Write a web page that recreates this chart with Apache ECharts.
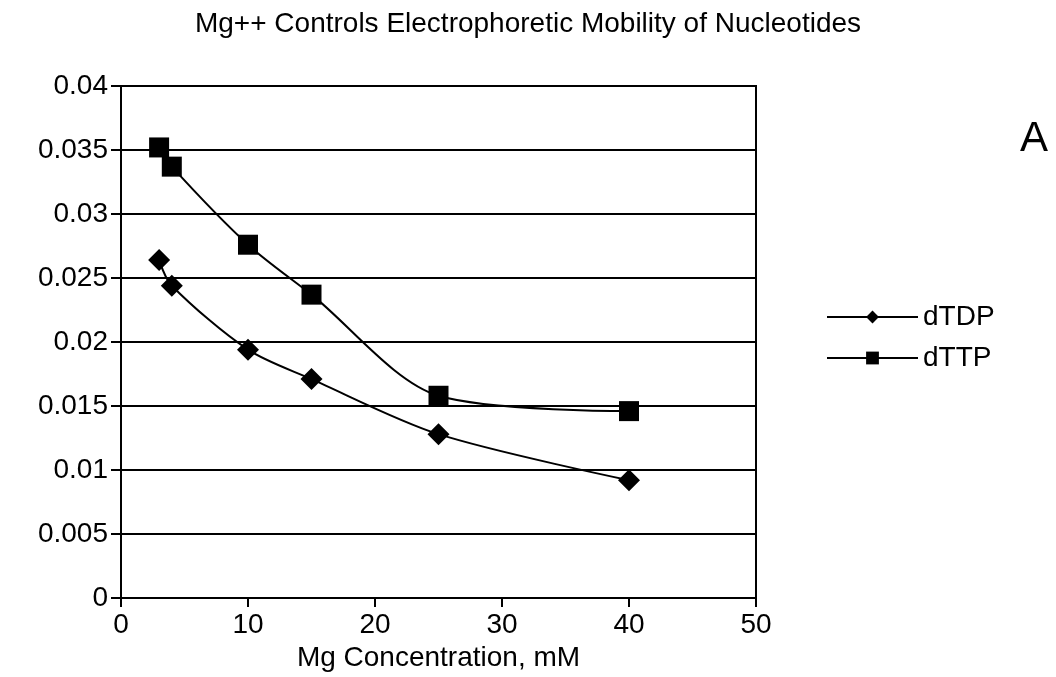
<!DOCTYPE html>
<html>
<head>
<meta charset="utf-8">
<script src="https://cdn.jsdelivr.net/npm/echarts@6/dist/echarts.min.js"></script>
<style>
  html, body { margin: 0; padding: 0; background: #fff; }
  #chart { width: 1056px; height: 677px; }
</style>
</head>
<body>
<div id="chart"></div>
<script>
// Mg concentration (mM)
var mgConc = [3, 4, 10, 15, 25, 40];
// mobility values
var dTDP = [0.0264, 0.0244, 0.0194, 0.0171, 0.0128, 0.0092];
var dTTP = [0.0352, 0.0337, 0.0276, 0.0237, 0.0158, 0.0146];

var FONT = '"Liberation Sans", Arial, sans-serif';

function pairs(xs, ys) {
  var out = [];
  for (var i = 0; i < xs.length; i++) {
    out.push([xs[i], ys[i]]);
  }
  return out;
}

var chart = echarts.init(document.getElementById('chart'));

chart.setOption({
  backgroundColor: '#fff',
  animation: false,
  title: {
    text: 'Mg++ Controls Electrophoretic Mobility of Nucleotides',
    left: 'center',
    top: 5,
    textStyle: { fontFamily: FONT, fontSize: 28, fontWeight: 'normal', color: '#000' }
  },
  graphic: [{
    type: 'text',
    left: 1020,
    top: 118,
    style: { text: 'A', font: '42px ' + FONT, fill: '#000' }
  }],
  legend: {
    orient: 'vertical',
    left: 821,
    top: 298,
    itemWidth: 91,
    itemHeight: 16,
    itemGap: 13,
    textStyle: { fontFamily: FONT, fontSize: 28, color: '#000' },
    data: ['dTDP', 'dTTP']
  },
  grid: {
    left: 121,
    right: 300,
    top: 86,
    bottom: 79,
    show: true,
    borderColor: '#000',
    borderWidth: 2
  },
  xAxis: {
    type: 'value',
    min: 0,
    max: 50,
    interval: 10,
    name: 'Mg Concentration, mM',
    nameLocation: 'middle',
    nameGap: 44,
    nameTextStyle: { fontFamily: FONT, fontSize: 28, color: '#000' },
    axisLine: { lineStyle: { color: '#000', width: 2 } },
    axisTick: { length: 9, lineStyle: { color: '#000', width: 2 } },
    axisLabel: { fontFamily: FONT, fontSize: 28, color: '#000', margin: 13 },
    splitLine: { show: false }
  },
  yAxis: {
    type: 'value',
    min: 0,
    max: 0.04,
    interval: 0.005,
    axisLine: { show: true, lineStyle: { color: '#000', width: 2 } },
    axisTick: { show: true, length: 10, lineStyle: { color: '#000', width: 2 } },
    axisLabel: { fontFamily: FONT, fontSize: 28, color: '#000', margin: 13 },
    splitLine: { show: true, lineStyle: { color: '#000', width: 2 } }
  },
  series: [
    {
      name: 'dTDP',
      type: 'line',
      data: pairs(mgConc, dTDP),
      smooth: 0.3,
      symbol: 'diamond',
      symbolSize: 22,
      lineStyle: { color: '#000', width: 2 },
      itemStyle: { color: '#000' }
    },
    {
      name: 'dTTP',
      type: 'line',
      data: pairs(mgConc, dTTP),
      smooth: 0.3,
      symbol: 'rect',
      symbolSize: 20,
      lineStyle: { color: '#000', width: 2 },
      itemStyle: { color: '#000' }
    }
  ]
});
</script>
</body>
</html>
